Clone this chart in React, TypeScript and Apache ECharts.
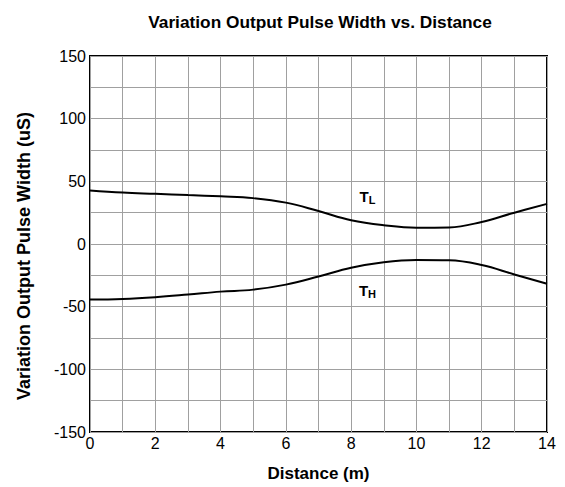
import React, { useEffect, useRef } from "react";
import * as echarts from "echarts";

const distance = [0, 1, 2, 3, 4, 5, 6, 7, 8, 9, 10, 11, 12, 13, 14];
const tL = [42.6, 41, 40, 39, 38, 36.6, 33, 26.3, 19, 15, 13, 13.2, 17.6, 25, 32];
const tH = [-44.3, -43.8, -42.4, -40.3, -38, -36.4, -32.4, -26, -19, -14.6, -12.8, -13, -16.8, -24.3, -31.7];
const labelTL = [8.5, 38];
const labelTH = [8.5, -37];

const FONT = "Liberation Sans, Arial, sans-serif";

export default function App() {
  const ref = useRef<HTMLDivElement>(null);
  useEffect(() => {
    document.body.style.margin = "0";
    const chart = echarts.init(ref.current!, null, { renderer: "svg" });
    const rich = {
      t: { fontSize: 15, fontWeight: "bold", fontFamily: FONT, color: "#000" },
      s: { fontSize: 11, fontWeight: "bold", fontFamily: FONT, color: "#000", verticalAlign: "bottom", padding: [8, 0, 0, 0] },
    };
    chart.setOption({
      animation: false,
      backgroundColor: "#fff",
      title: {
        text: "Variation Output Pulse Width vs. Distance",
        left: 315,
        top: 8,
        textAlign: "center",
        textStyle: { fontSize: 17.3, fontWeight: "bold", fontFamily: FONT, color: "#000" },
      },
      grid: { left: 90, right: 18, top: 56, bottom: 52, show: true, borderColor: "#000", borderWidth: 2, backgroundColor: "transparent" },
      xAxis: {
        type: "value",
        min: 0,
        max: 14,
        interval: 1,
        name: "Distance (m)",
        nameLocation: "middle",
        nameGap: 33,
        nameTextStyle: { fontSize: 17, fontWeight: "bold", fontFamily: FONT, color: "#000" },
        axisLine: { show: false },
        axisTick: { show: false },
        axisLabel: {
          fontSize: 16,
          fontFamily: FONT,
          color: "#000",
          margin: 3,
          formatter: (v: number) => (v % 2 === 0 ? String(v) : ""),
        },
        splitLine: { show: true, lineStyle: { color: "#a0a0a0", width: 1 } },
      },
      yAxis: {
        type: "value",
        min: -150,
        max: 150,
        interval: 25,
        name: "Variation Output Pulse Width (uS)",
        nameLocation: "middle",
        nameGap: 57,
        nameTextStyle: { fontSize: 18, fontWeight: "bold", fontFamily: FONT, color: "#000", padding: [0, 24, 0, 0] },
        axisLine: { show: false },
        axisTick: { show: false },
        axisLabel: {
          fontSize: 16,
          fontFamily: FONT,
          color: "#000",
          margin: 4,
          formatter: (v: number) => (v % 50 === 0 ? String(v) : ""),
        },
        splitLine: { show: true, lineStyle: { color: "#a0a0a0", width: 1 } },
      },
      series: [
        {
          name: "TL",
          type: "line",
          data: distance.map((d, i) => [d, tL[i]]),
          smooth: 0.4,
          showSymbol: false,
          lineStyle: { color: "#000", width: 2 },
          markPoint: {
            symbolSize: 0,
            data: [{ coord: labelTL, label: { show: true, formatter: "{t|T}{s|L}", rich } }],
          },
        },
        {
          name: "TH",
          type: "line",
          data: distance.map((d, i) => [d, tH[i]]),
          smooth: 0.4,
          showSymbol: false,
          lineStyle: { color: "#000", width: 2 },
          markPoint: {
            symbolSize: 0,
            data: [{ coord: labelTH, label: { show: true, formatter: "{t|T}{s|H}", rich } }],
          },
        },
      ],
    });
    return () => chart.dispose();
  }, []);
  return <div ref={ref} style={{ width: 565, height: 487 }} />;
}
